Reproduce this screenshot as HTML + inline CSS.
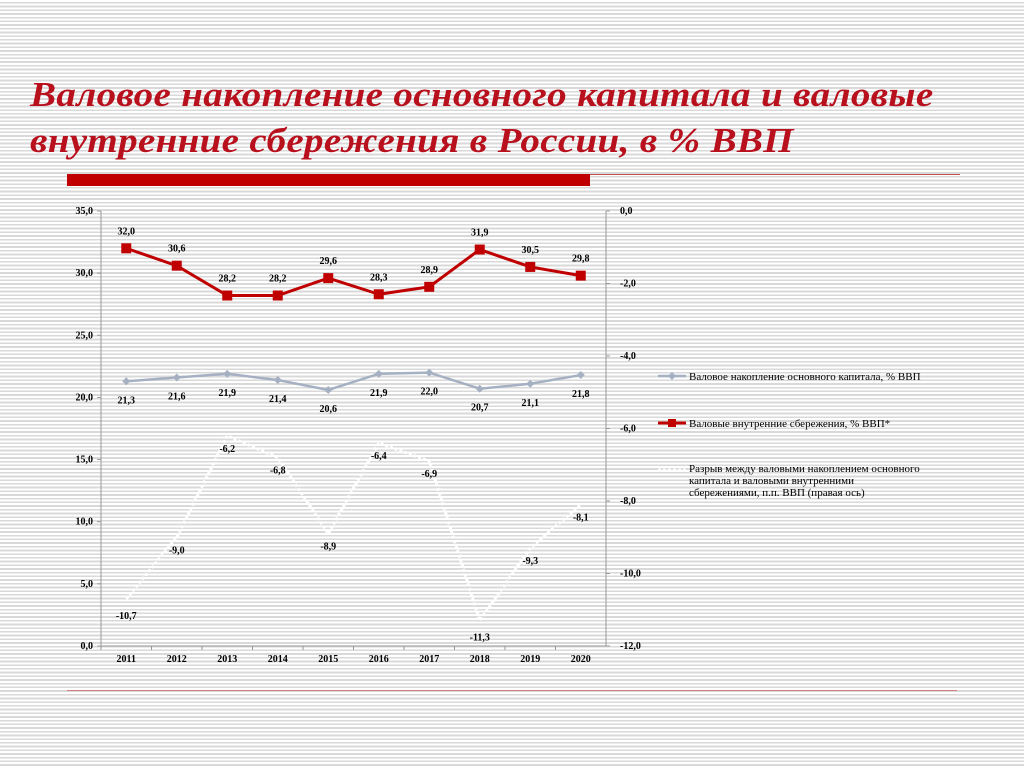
<!DOCTYPE html>
<html><head><meta charset="utf-8"><style>
body{margin:0;width:1024px;height:767px;overflow:hidden;background:#fff repeating-linear-gradient(180deg,#fff 0,#fff 2px,#d9d9d9 2px,#d9d9d9 3.7px);font-family:"Liberation Serif",serif;position:relative}
.t{position:absolute;left:30px;font:italic bold 35px "Liberation Serif",serif;color:#b8101c;white-space:nowrap;letter-spacing:0.3px;transform:scaleX(1.115);transform-origin:0 0}
</style></head><body>
<div class="t" style="top:75px">Валовое накопление основного капитала и валовые</div>
<div class="t" style="top:121px">внутренние сбережения в России, в % ВВП</div>
<div style="position:absolute;left:67px;top:174px;width:523px;height:12px;background:#c00000"></div>
<div style="position:absolute;left:590px;top:174px;width:370px;height:1px;background:#c05050"></div>
<div style="position:absolute;left:67px;top:690px;width:890px;height:1px;background:#d08080"></div>
<svg id="c" width="1024" height="767" style="position:absolute;left:0;top:0" font-family="Liberation Serif, serif" font-weight="bold" font-size="10"></svg>
<script>
const years=["2011","2012","2013","2014","2015","2016","2017","2018","2019","2020"];
const gfcf=[21.3,21.6,21.9,21.4,20.6,21.9,22.0,20.7,21.1,21.8];
const savings=[32.0,30.6,28.2,28.2,29.6,28.3,28.9,31.9,30.5,29.8];
const gap=[-10.7,-9.0,-6.2,-6.8,-8.9,-6.4,-6.9,-11.3,-9.3,-8.1];
const leftTicks=[0,5,10,15,20,25,30,35];
const rightTicks=[0,-2,-4,-6,-8,-10,-12];
const NS="http://www.w3.org/2000/svg",svg=document.getElementById('c');
const X0=101,X1=606,Y0=211,Y1=646;
const x=i=>X0+(X1-X0)*(i+0.5)/years.length;
const yL=v=>Y1-(v/35)*(Y1-Y0);
const yR=v=>Y0+(-v/12)*(Y1-Y0);
function el(t,a,txt){const e=document.createElementNS(NS,t);for(const k in a)e.setAttribute(k,a[k]);if(txt!==undefined)e.textContent=txt;svg.appendChild(e);return e;}
const fmt=v=>v.toFixed(1).replace('.',',');
let e;
e=el('line',{x1:X0,y1:Y0,x2:X0,y2:Y1,stroke:'#999'});


e=el('line',{x1:X1,y1:Y0,x2:X1,y2:Y1,stroke:'#999'});


e=el('line',{x1:X0,y1:Y1,x2:X1,y2:Y1,stroke:'#999'});


leftTicks.forEach(v=>{el('line',{x1:X0-4,x2:X0,y1:yL(v),y2:yL(v),stroke:'#999'});
e=el('text',{x:X0-8,y:yL(v)+3,'text-anchor':'end'},fmt(v));

});
rightTicks.forEach(v=>{el('line',{x1:X1,x2:X1+4,y1:yR(v),y2:yR(v),stroke:'#999'});
e=el('text',{x:X1+14,y:yR(v)+3},fmt(v));

});
years.forEach((yv,i)=>{const xx=X0+(X1-X0)*i/years.length;el('line',{x1:xx,x2:xx,y1:Y1,y2:Y1+4,stroke:'#999'});
e=el('text',{x:x(i),y:Y1+16,'text-anchor':'middle'},yv);

});
e=el('polyline',{points:gap.map((v,i)=>x(i)+','+yR(v)).join(' '),fill:'none',stroke:'#fff','stroke-width':3,'stroke-dasharray':'3 2'});


gap.forEach((v,i)=>{e=el('text',{x:x(i),y:yR(v)+(i==0||i==7?20:16),'text-anchor':'middle'},fmt(v));

});
e=el('polyline',{points:gfcf.map((v,i)=>x(i)+','+yL(v)).join(' '),fill:'none',stroke:'#a5b0c3','stroke-width':2.5});


gfcf.forEach((v,i)=>{e=el('path',{d:`M${x(i)-4},${yL(v)}L${x(i)},${yL(v)-4}L${x(i)+4},${yL(v)}L${x(i)},${yL(v)+4}Z`,fill:'#a5b0c3'});


e=el('text',{x:x(i),y:yL(v)+22,'text-anchor':'middle'},fmt(v));

});
e=el('polyline',{points:savings.map((v,i)=>x(i)+','+yL(v)).join(' '),fill:'none',stroke:'#c00000','stroke-width':3});


savings.forEach((v,i)=>{e=el('rect',{x:x(i)-5,y:yL(v)-5,width:10,height:10,fill:'#c00000'});


e=el('text',{x:x(i),y:yL(v)-14,'text-anchor':'middle'},fmt(v));

});
e=el('line',{x1:658,x2:686,y1:376,y2:376,stroke:'#a5b0c3','stroke-width':2.5});


el('path',{d:'M668,376L672,372L676,376L672,380Z',fill:'#a5b0c3'});
e=el('text',{x:689,y:380,'font-weight':'normal','font-size':'11'},'Валовое накопление основного капитала, % ВВП');


e=el('line',{x1:658,x2:686,y1:423,y2:423,stroke:'#c00000','stroke-width':3});


el('rect',{x:668,y:419,width:8,height:8,fill:'#c00000'});
e=el('text',{x:689,y:427,'font-weight':'normal','font-size':'11'},'Валовые внутренние сбережения, % ВВП*');


e=el('line',{x1:658,x2:686,y1:470,y2:470,stroke:'#fff','stroke-width':3,'stroke-dasharray':'3 2'});


['Разрыв между валовыми накоплением основного','капитала и валовыми внутренними','сбережениями, п.п. ВВП (правая ось)'].forEach((s,k)=>{
e=el('text',{x:689,y:472+k*12,'font-weight':'normal','font-size':'11'},s);

});
</script>
</body></html>
